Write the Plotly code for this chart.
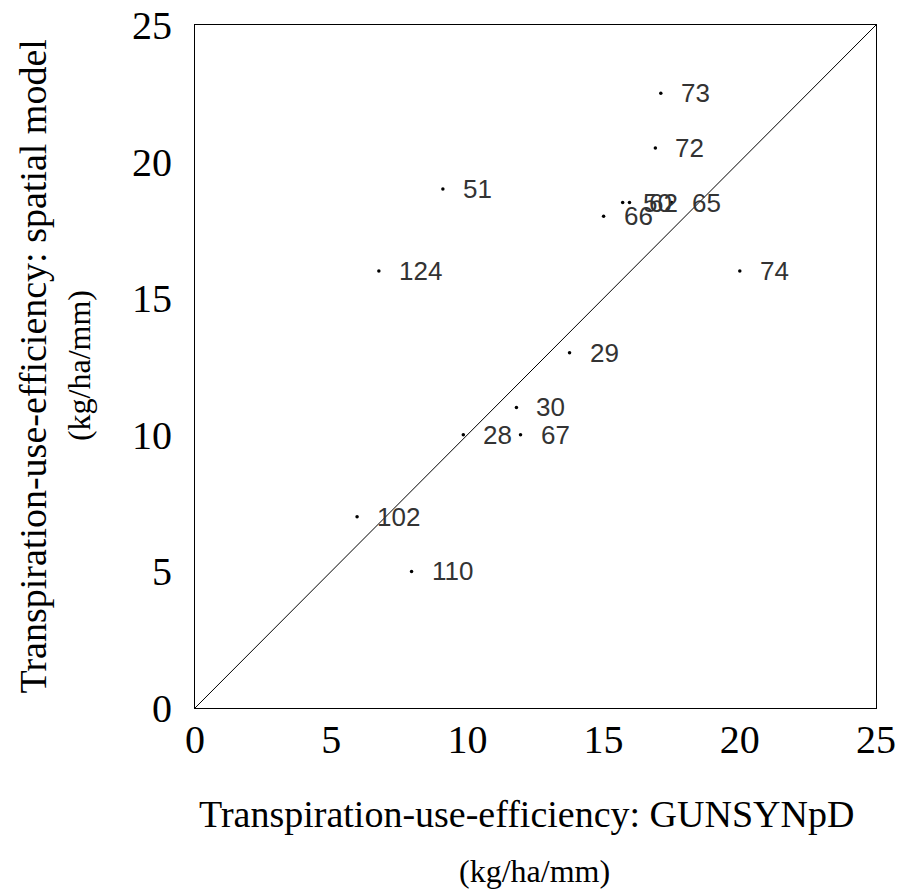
import plotly.graph_objects as go

labels = ["73", "72", "51", "50", "62", "66", "65", "74", "124", "29", "30", "28", "67", "102", "110"]
x_vals = [17.1, 16.9, 9.1, 15.7, 15.95, 15.0, 17.5, 20.0, 6.75, 13.75, 11.8, 9.85, 11.95, 5.95, 7.95]
y_vals = [22.5, 20.5, 19.0, 18.5, 18.5, 18.0, 18.5, 16.0, 16.0, 13.0, 11.0, 10.0, 10.0, 7.0, 5.0]
tick_vals = [0, 5, 10, 15, 20, 25]
tick_text = ["0", "5", "10", "15", "20", "25"]

fig = go.Figure()
fig.add_trace(go.Scatter(x=[0, 25], y=[0, 25], mode="lines",
                         line=dict(color="black", width=1), hoverinfo="skip"))
fig.add_trace(go.Scatter(x=x_vals, y=y_vals, mode="markers",
                         marker=dict(color="black", size=3.5), hoverinfo="skip"))

for lx, ly, lt in zip(x_vals, y_vals, labels):
    fig.add_annotation(x=lx, y=ly, text=lt, showarrow=False, xanchor="left", yanchor="middle",
                       xshift=18, font=dict(family="Liberation Sans, Arial", size=26, color="#333333"))

serif = "Liberation Serif, Times New Roman, serif"
# paper coords: x=(px-195)/681, y=(708-py)/683
fig.add_annotation(xref="paper", yref="paper", x=0.487, y=-0.155, text="Transpiration-use-efficiency: GUNSYNpD",
                   showarrow=False, xanchor="center", yanchor="middle", font=dict(family=serif, size=38, color="black"))
fig.add_annotation(xref="paper", yref="paper", x=0.498, y=-0.238, text="(kg/ha/mm)",
                   showarrow=False, xanchor="center", yanchor="middle", font=dict(family=serif, size=32, color="black"))
fig.add_annotation(xref="paper", yref="paper", x=-0.238, y=0.5, text="Transpiration-use-efficiency: spatial model",
                   textangle=-90, showarrow=False, xanchor="center", yanchor="middle", font=dict(family=serif, size=38, color="black"))
fig.add_annotation(xref="paper", yref="paper", x=-0.170, y=0.501, text="(kg/ha/mm)",
                   textangle=-90, showarrow=False, xanchor="center", yanchor="middle", font=dict(family=serif, size=32, color="black"))

axis_common = dict(range=[0, 25], tickvals=tick_vals, ticktext=tick_text, showgrid=False, zeroline=False,
                   showline=True, linecolor="black", linewidth=1, mirror=True, ticks="", automargin=False,
                   ticklabeloverflow="allow",
                   tickfont=dict(family=serif, size=40, color="black"))
fig.update_xaxes(**axis_common, ticklabelstandoff=-4)
fig.update_yaxes(**axis_common, ticklabelstandoff=14)

fig.update_layout(width=898, height=891, margin=dict(l=195, r=22, t=25, b=183),
                  plot_bgcolor="white", paper_bgcolor="white", showlegend=False)
fig.write_html("out.html", config={"displayModeBar": False},
               post_script="document.body.style.margin='0';document.body.style.overflow='hidden';")
